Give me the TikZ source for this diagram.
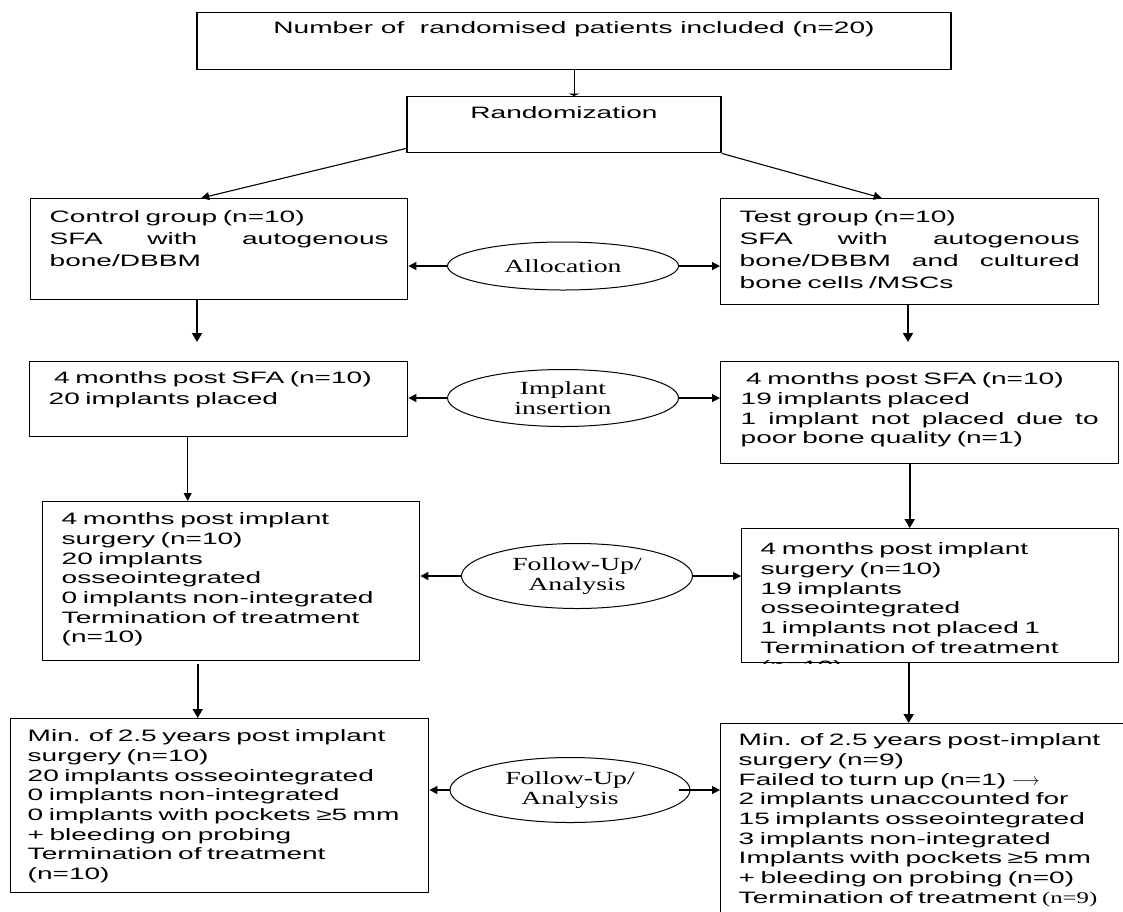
\documentclass[tikz,border=0pt]{standalone}
\usepackage{fontspec}
\setmainfont{Liberation Sans}[FakeStretch=1.7]
\newfontfamily\ovalfont{Liberation Serif}[FakeStretch=1.5]
\usetikzlibrary{arrows.meta}
\usetikzlibrary{shapes.geometric}

\begin{document}
\begin{tikzpicture}[x=1pt, y=-1pt,
    box/.style={draw, line width=1.4pt, rectangle, anchor=north west, inner ysep=0pt, inner xsep=19pt, align=left, font=\fontsize{16.5}{19.7}\selectfont},
    oval/.style={draw, ellipse, line width=1pt, inner sep=0pt, align=center, font=\ovalfont\fontsize{18.5}{20}\selectfont},
    tick arr/.style={-{Triangle[length=2.5pt,width=11pt]}, line width=1pt},
    thin arr/.style={-{Triangle[length=8pt,width=8pt]}, line width=1.1pt},
    thick arr/.style={-{Triangle[length=9pt,width=10pt]}, line width=1.8pt}]
    \useasboundingbox (0,0) rectangle (1123,911);

    % boxes
    \node[box, minimum width=754pt, inner xsep=0pt, align=center, anchor=north, text height=21pt, text depth=36pt] (top) at (574,12) {Number of \ randomised patients included (n=20)};
    \node[box, minimum width=314pt, inner xsep=0pt, align=center, anchor=north, text height=22pt, text depth=34pt] (rand) at (564,96) {Randomization};

    \node[box, text width=339pt, text height=24pt, text depth=77pt, font=\fontsize{16.5}{22}\selectfont] (ctrl) at (30,198) {Control group (n=10)\\ SFA\hfill with\hfill autogenous\\ bone/DBBM};
    \node[box, text width=340pt, text height=24pt, text depth=82pt, font=\fontsize{16.5}{22}\selectfont] (test) at (720,198) {Test group (n=10)\\ SFA\hfill with\hfill autogenous\\ bone/DBBM\hfill and\hfill cultured\\ bone cells /MSCs};

    \node[box, text width=340pt, text height=22pt, text depth=53pt, font=\fontsize{16.5}{21}\selectfont] (ps1) at (29,361) {\ 4 months post SFA (n=10)\\ 20 implants placed};
    \node[box, text width=358pt, inner xsep=20pt, text height=23pt, text depth=79pt] (ps2) at (720,361) {\ 4 months post SFA (n=10)\\ 19 implants placed\\ 1\hfill implant\hfill not\hfill placed\hfill due\hfill to\\ poor bone quality (n=1)};

    \node[box, text width=339pt, text height=23pt, text depth=136pt] (pi1) at (42,501) {4 months post implant\\ surgery (n=10)\\ 20 implants\\ osseointegrated\\ 0 implants non-integrated\\ Termination of treatment\\ (n=10)};
    \begin{scope}
      \clip (740,527) rectangle (1119,663);
      \node[box, text width=339pt, text height=26pt, text depth=108pt] (pi2) at (741,528) {4 months post implant\\ surgery (n=10)\\ 19 implants\\ osseointegrated\\ 1 implants not placed 1\\ Termination of treatment\\ (n=10)};
    \end{scope}

    \node[box, text width=384pt, inner xsep=17pt, text height=23pt, text depth=151pt] (mn1) at (10,718) {Min. of 2.5 years post implant\\ surgery (n=10)\\ 20 implants osseointegrated\\ 0 implants non-integrated\\ 0 implants with pockets ≥5 mm\\ + bleeding on probing\\ Termination of treatment\\ (n=10)};
    \node[box, text width=400pt, inner xsep=18pt, text height=22pt, text depth=185pt] (mn2) at (720,723) {Min. of 2.5 years post-implant\\ surgery (n=9)\\ Failed to turn up (n=1) $\longrightarrow$\\ 2 implants unaccounted for\\ 15 implants osseointegrated\\ 3 implants non-integrated\\ Implants with pockets ≥5 mm\\ + bleeding on probing (n=0)\\ Termination of treatment {\ovalfont(n=9)}};

    % ovals
    \node[oval, minimum width=231pt, minimum height=48pt] (alloc) at (563,266) {Allocation};
    \node[oval, minimum width=231pt, minimum height=57pt] (insert) at (563,398) {Implant\\insertion};
    \node[oval, minimum width=231pt, minimum height=65pt] (fu1) at (577,576) {Follow-Up/\\Analysis};
    \node[oval, minimum width=240pt, minimum height=65pt] (fu2) at (570,790) {Follow-Up/\\Analysis};

    % connectors
    \draw[tick arr] (top.south) -- (top.south |- rand.north);
    \draw[thin arr] ([yshift=5pt]rand.south west) -- ([xshift=-18pt]ctrl.north);
    \draw[thin arr] (rand.south east) -- ([xshift=-28pt]test.north);

    \draw[thin arr] (alloc.west) -- (alloc.west -| ctrl.east);
    \draw[thin arr] (alloc.east) -- (alloc.east -| test.west);
    \draw[thin arr] (insert.west) -- (insert.west -| ps1.east);
    \draw[thin arr] (insert.east) -- (insert.east -| ps2.west);
    \draw[thin arr] (fu1.west) -- (fu1.west -| pi1.east);
    \draw[thin arr] (fu1.east) -- (fu1.east -| pi2.west);
    \draw[thin arr] (fu2.west) -- (fu2.west -| mn1.east);
    \draw[thin arr] ([xshift=-12pt]fu2.east) -- (fu2.east -| mn2.west);

    \coordinate (ctrlend) at (197,342);
    \coordinate (testend) at (908,342);
    \draw[thick arr] (ctrl.south -| ctrlend) -- (ctrlend);
    \draw[thick arr] (test.south -| testend) -- (testend);
    \draw[thin arr] ([xshift=-31pt]ps1.south) -- ([xshift=-31pt]ps1.south |- pi1.north);
    \draw[thick arr] ([xshift=-10pt]ps2.south) -- ([xshift=-10pt]ps2.south |- pi2.north);
    \draw[thick arr] ([xshift=-33.5pt,yshift=-3pt]pi1.south) -- ([xshift=-33.5pt]pi1.south |- mn1.north);
    \draw[thick arr] ([xshift=-21.5pt]pi2.south) -- ([xshift=-21.5pt]pi2.south |- mn2.north);
\end{tikzpicture}
\end{document}
